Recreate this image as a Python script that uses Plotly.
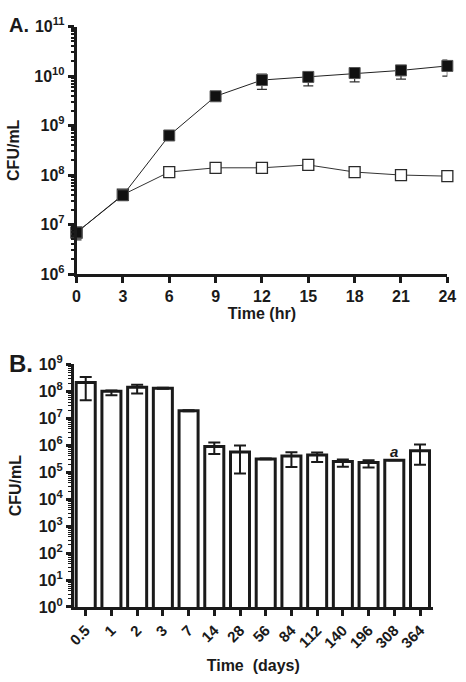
import plotly.graph_objects as go

# ---------- Panel A data ----------
time_hr = [0, 3, 6, 9, 12, 15, 18, 21, 24]
filled = [6.9e6, 3.9e7, 6.3e8, 3.9e9, 8.3e9, 9.6e9, 1.15e10, 1.3e10, 1.6e10]
filled_hi = [7.8e6, 4.3e7, 6.8e8, 4.1e9, 1.1e10, 1.05e10, 1.2e10, 1.4e10, 2.1e10]
filled_lo = [4.9e6, 3.6e7, 6.0e8, 3.7e9, 5.4e9, 6.3e9, 7.6e9, 8.7e9, 1.0e10]
open_ = [6.9e6, 4.0e7, 1.15e8, 1.4e8, 1.4e8, 1.6e8, 1.15e8, 1.0e8, 9.5e7]
open_hi = [7.2e6, 4.2e7, 1.2e8, 1.45e8, 1.45e8, 1.65e8, 1.2e8, 1.03e8, 9.8e7]
open_lo = [6.6e6, 3.8e7, 1.1e8, 1.35e8, 1.35e8, 1.55e8, 1.05e8, 0.97e8, 9.2e7]

# ---------- Panel B data ----------
days = ["0.5", "1", "2", "3", "7", "14", "28", "56", "84", "112", "140", "196", "308", "364"]
cfu_b = [2.1e8, 1.0e8, 1.4e8, 1.3e8, 1.9e7, 9.0e5, 5.6e5, 3.1e5, 4.0e5, 4.3e5, 2.5e5, 2.3e5, 2.8e5, 6.2e5]
cfu_b_hi = [3.4e8, 1.08e8, 1.75e8, 1.35e8, 2.0e7, 1.26e6, 9.8e5, 3.2e5, 5.5e5, 5.4e5, 2.95e5, 2.8e5, 2.8e5, 1.07e6]
cfu_b_lo = [4.7e7, 7.1e7, 8.3e7, 1.25e8, 1.8e7, 4.7e5, 8.9e4, 3.0e5, 1.55e5, 2.4e5, 1.6e5, 1.5e5, 2.8e5, 1.9e5]
note_label = "a"
note_index = 12

W, H = 466, 682
FONT = "Liberation Sans, Arial, sans-serif"
INK = "#1a1a1a"


def px_x(p):
    return p / W


def px_y(p):
    return 1 - p / H


fig = go.Figure()

# open squares (drawn first)
fig.add_trace(go.Scatter(
    x=time_hr, y=open_, mode="lines+markers", xaxis="x", yaxis="y",
    line=dict(color="#333333", width=1),
    marker=dict(symbol="square", size=11, color="white", line=dict(color="#2a2a2a", width=1.3)),
    error_y=dict(type="data", symmetric=False,
                 array=[h - v for h, v in zip(open_hi, open_)],
                 arrayminus=[v - l for v, l in zip(open_, open_lo)],
                 color="#333333", thickness=1, width=4),
    cliponaxis=False, showlegend=False))

# filled squares
fig.add_trace(go.Scatter(
    x=time_hr, y=filled, mode="lines+markers", xaxis="x", yaxis="y",
    line=dict(color="#222222", width=1),
    marker=dict(symbol="square", size=11, color="#111111", line=dict(color="#555555", width=1)),
    error_y=dict(type="data", symmetric=False,
                 array=[h - v for h, v in zip(filled_hi, filled)],
                 arrayminus=[v - l for v, l in zip(filled, filled_lo)],
                 color="#333333", thickness=1.2, width=5),
    cliponaxis=False, showlegend=False))

# bars
fig.add_trace(go.Bar(
    x=days, y=cfu_b, xaxis="x2", yaxis="y2", width=0.74,
    marker=dict(color="white", line=dict(color=INK, width=3)),
    error_y=dict(type="data", symmetric=False,
                 array=[h - v for h, v in zip(cfu_b_hi, cfu_b)],
                 arrayminus=[v - l for v, l in zip(cfu_b, cfu_b_lo)],
                 color=INK, thickness=2, width=6),
    showlegend=False))


def sup_ticks(lo, hi):
    vals = [10 ** k for k in range(lo, hi + 1)]
    txt = [f"<b>10<sup>{k}</sup></b>" for k in range(lo, hi + 1)]
    return vals, txt


def minors(lo, hi):
    out = []
    for k in range(lo, hi):
        for m in range(2, 10):
            out.append(m * 10 ** k)
    return out


va, ta = sup_ticks(6, 11)
vb, tb = sup_ticks(0, 9)

axis_common = dict(showgrid=False, zeroline=False, showline=True, linecolor=INK,
                   ticks="outside", tickcolor=INK)

fig.update_layout(
    width=W, height=H,
    margin=dict(l=0, r=0, t=0, b=0),
    paper_bgcolor="white", plot_bgcolor="white",
    font=dict(family=FONT, color=INK),
    xaxis=dict(domain=[px_x(72), px_x(456)], anchor="y", range=[0, 24],
               tickvals=time_hr, ticktext=[f"<b>{t}</b>" for t in time_hr],
               tickfont=dict(size=16), linewidth=2.5, tickwidth=2.5, ticklen=6,
               title=dict(text="<b>Time (hr)</b>", font=dict(size=16), standoff=3),
               **axis_common),
    yaxis=dict(domain=[px_y(271), px_y(16)], anchor="x", type="log", range=[6, 11],
               tickvals=va, ticktext=ta, tickfont=dict(size=16), linewidth=2.5,
               tickwidth=2.5, ticklen=6,
               minor=dict(tickvals=minors(6, 11), ticks="outside", ticklen=3,
                          tickwidth=1.5, tickcolor=INK, showgrid=False),
               title=dict(text="<b>CFU/mL</b>", font=dict(size=16), standoff=11),
               **axis_common),
    xaxis2=dict(domain=[px_x(69), px_x(441)], anchor="y2", type="category",
                range=[-0.47, 13.5], tickvals=days,
                ticktext=[f"<b>{d}</b>" for d in days], tickangle=-45,
                tickfont=dict(size=15), linewidth=2.5, tickwidth=2.5, ticklen=6,
                title=dict(text="<b>Time  (days)</b>", font=dict(size=16), standoff=10),
                **axis_common),
    yaxis2=dict(domain=[px_y(614), px_y(364)], anchor="x2", type="log", range=[0, 9],
                tickvals=vb, ticktext=tb, tickfont=dict(size=16), linewidth=2.5,
                tickwidth=2.5, ticklen=5,
                minor=dict(tickvals=minors(0, 9), ticks="outside", ticklen=3,
                           tickwidth=1.2, tickcolor=INK, showgrid=False),
                title=dict(text="<b>CFU/mL</b>", font=dict(size=16), standoff=14),
                **axis_common),
    annotations=[
        dict(text="<b>A.</b>", x=0, y=px_y(1), xref="paper", yref="paper",
             xanchor="left", yanchor="top", showarrow=False, font=dict(size=20)),
        dict(text="<b>B.</b>", x=0, y=px_y(347), xref="paper", yref="paper",
             xanchor="left", yanchor="top", showarrow=False, font=dict(size=24)),
        dict(text=f"<b><i>{note_label}</i></b>", x=note_index, y=5.78, xref="x2", yref="y2",
             xanchor="center", yanchor="middle", showarrow=False, font=dict(size=15)),
    ],
)

fig.write_html("out.html", config={"displayModeBar": False},
               post_script="document.body.style.margin='0';document.body.style.overflow='hidden';")
